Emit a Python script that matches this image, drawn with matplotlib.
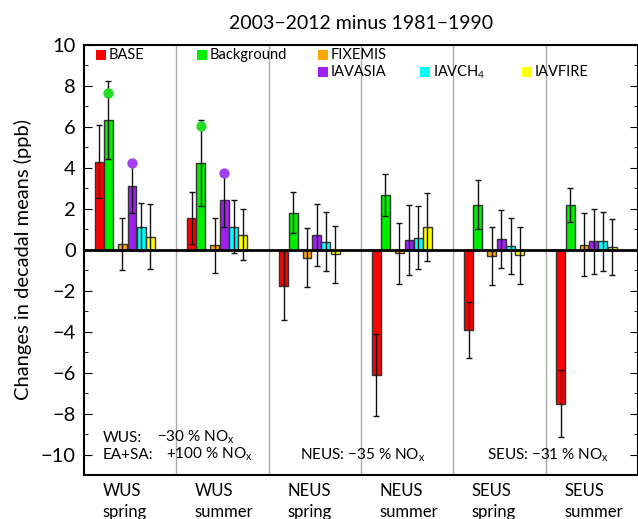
import matplotlib
matplotlib.use("Agg")
import matplotlib.pyplot as plt
import numpy as np
from matplotlib.ticker import MultipleLocator

plt.rcParams['font.family'] = ['Lato', 'DejaVu Sans']
plt.rcParams['mathtext.default'] = 'regular'

regions = ["WUS", "WUS", "NEUS", "NEUS", "SEUS", "SEUS"]
seasons = ["spring", "summer", "spring", "summer", "spring", "summer"]
series = ["BASE", "Background", "FIXEMIS", "IAVASIA", "IAVCH$_4$", "IAVFIRE"]
colors = ["#ff0000", "#00ee00", "#ffa500", "#a020f0", "#00ffff", "#ffff00"]

base = [4.30, 1.55, -1.75, -6.13, -3.92, -7.52]
background = [6.34, 4.22, 1.80, 2.66, 2.21, 2.21]
fixemis = [0.28, 0.21, -0.38, -0.18, -0.31, 0.25]
iavasia = [3.10, 2.45, 0.72, 0.49, 0.52, 0.41]
iavch4 = [1.11, 1.13, 0.39, 0.59, 0.20, 0.41]
iavfire = [0.64, 0.74, -0.23, 1.11, -0.28, 0.13]

base_err = [1.78, 1.25, 1.70, 2.00, 1.36, 1.63]
background_err = [1.90, 2.10, 1.00, 1.03, 1.22, 0.83]
fixemis_err = [1.25, 1.35, 1.45, 1.50, 1.42, 1.55]
iavasia_err = [1.30, 1.34, 1.52, 1.70, 1.41, 1.58]
iavch4_err = [1.15, 1.29, 1.45, 1.53, 1.36, 1.43]
iavfire_err = [1.58, 1.25, 1.40, 1.67, 1.41, 1.37]

# Dots above the WUS bars (Background and IAVASIA)
background_dots = [7.65, 6.03]
iavasia_dots = [4.25, 3.74]

values = [base, background, fixemis, iavasia, iavch4, iavfire]
errors = [base_err, background_err, fixemis_err, iavasia_err, iavch4_err, iavfire_err]
offsets = [0.165, 0.265, 0.415, 0.52, 0.62, 0.72]
width = 0.097

fig = plt.figure(figsize=(6.38, 5.19), dpi=100)
ax = fig.add_axes([84/638, 1-475/519, 554/638, 430/519])

x0 = np.arange(len(regions))
for vals, errs, off, col in zip(values, errors, offsets, colors):
    ax.bar(x0 + off, vals, width=width, color=col, edgecolor="#333333",
           linewidth=1.0, zorder=3)
    ax.errorbar(x0 + off, vals, yerr=errs, fmt="none", ecolor="#111111",
                elinewidth=1.0, capsize=2.5, capthick=1.0, zorder=4)

ax.scatter(x0[:2] + offsets[1], background_dots, s=55, color="#22dd22", zorder=5, linewidths=0)
ax.scatter(x0[:2] + offsets[3], iavasia_dots, s=55, color="#a040f0", zorder=5, linewidths=0)

for xv in range(1, len(regions)):
    ax.axvline(xv, color="#aaaaaa", lw=1.0, zorder=1)
ax.axhline(0, color="black", lw=2.0, zorder=6)

ax.set_xlim(0, len(regions))
ax.set_ylim(-11, 10)
ax.yaxis.set_major_locator(MultipleLocator(2))
ax.yaxis.set_minor_locator(MultipleLocator(1))
ax.tick_params(axis="y", which="both", direction="in", left=True, right=True,
               labelsize=14.5, pad=6)
ax.tick_params(axis="y", which="major", length=6)
ax.tick_params(axis="y", which="minor", length=3)
ax.set_yticks(np.arange(-10, 11, 2))
ax.set_yticklabels([f"{v}".replace("-", "\u2212") for v in range(-10, 11, 2)])
ax.set_xticks([])
for s in ax.spines.values():
    s.set_linewidth(1.5)

xt = ax.get_xaxis_transform()
for i, (r, s) in enumerate(zip(regions, seasons)):
    ax.text(i + 0.2, -21/430, r, transform=xt, ha="left", va="baseline",
            fontsize=12)
    ax.text(i + 0.2, -42/430, s, transform=xt, ha="left", va="baseline",
            fontsize=12)

ax.set_ylabel("Changes in decadal means (ppb)", fontsize=14.5, labelpad=6)
ax.set_title("2003\u22122012 minus 1981\u22121990", fontsize=14, pad=11.5)

# Legend entries
leg_pos = [(0.0307, 0.977), (0.213, 0.977), (0.431, 0.977),
           (0.431, 0.937), (0.616, 0.937), (0.80, 0.937)]
for (lx, ly), name, col in zip(leg_pos, series, colors):
    ax.scatter([lx], [ly], marker="s", s=60, color=col, transform=ax.transAxes,
               zorder=7, linewidths=0, clip_on=False)
    ax.text(lx + 0.014, ly, name, transform=ax.transAxes, ha="left",
            va="center", fontsize=10.5)

# Emission change notes
note_fs = 11
ax.text(0.034, 33/430, "WUS:", transform=ax.transAxes, ha="left",
        va="baseline", fontsize=note_fs)
ax.text(0.132, 33/430, "\u221230 % NO$_x$", transform=ax.transAxes, ha="left",
        va="baseline", fontsize=note_fs)
ax.text(0.034, 16/430, "EA+SA:", transform=ax.transAxes, ha="left",
        va="baseline", fontsize=note_fs)
ax.text(0.148, 16/430, "+100 % NO$_x$", transform=ax.transAxes, ha="left",
        va="baseline", fontsize=note_fs)
ax.text(3.02, 15/430, "NEUS: \u221235 % NO$_x$", transform=xt,
        ha="center", va="baseline", fontsize=note_fs)
ax.text(5.02, 15/430, "SEUS: \u221231 % NO$_x$", transform=xt,
        ha="center", va="baseline", fontsize=note_fs)

fig.savefig("out.png", dpi=100)
